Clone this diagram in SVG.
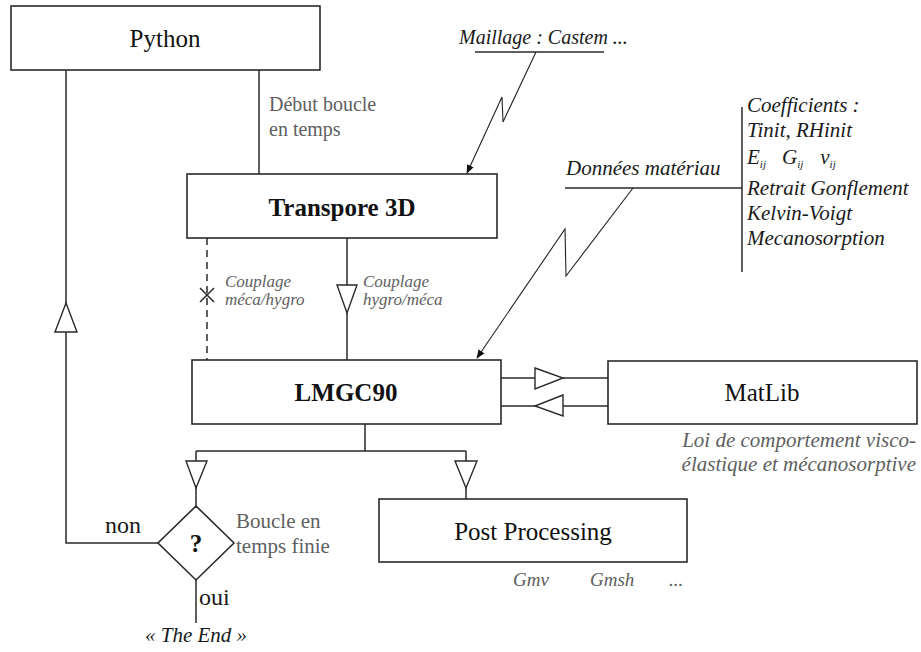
<svg xmlns="http://www.w3.org/2000/svg" width="921" height="652" viewBox="0 0 921 652" font-family="'Liberation Serif', 'Times New Roman', 'DejaVu Serif', serif">
<defs>
<style>
text{font-family:"Liberation Serif","Times New Roman","DejaVu Serif",serif}
.box{fill:#fff;stroke:#2a2a2a;stroke-width:1.6}
.lbl{font-size:25px;fill:#111;text-anchor:middle}
.b{font-weight:bold}
.ln{stroke:#2a2a2a;stroke-width:1.5;fill:none}
.tri{fill:#fff;stroke:#2a2a2a;stroke-width:1.4}
.note{fill:#606060}
.blk{fill:#1a1a1a}
.it{font-style:italic}
.bolt{stroke:#222;stroke-width:1.1;fill:none}
</style>
<marker id="ah" viewBox="0 0 10 10" refX="9" refY="5" markerWidth="9" markerHeight="9" orient="auto" markerUnits="userSpaceOnUse">
<path d="M0,1 L10,5 L0,9 z" fill="#111"/>
</marker>
</defs>
<rect width="921" height="652" fill="#fff"/>

<g id="connectors">
<path class="ln" d="M66,70 V543 H158"/>
<polygon class="tri" points="66,303 77,332 55,332"/>
<path class="ln" d="M259,70 V174"/>
<path class="ln" d="M207,238 V360" stroke-dasharray="7,5"/>
<path class="ln" d="M200,288 L214,302 M214,288 L200,302" stroke-width="1.2"/>
<path class="ln" d="M347,238 V360"/>
<polygon class="tri" points="337,285 357,285 347,313"/>
<path class="ln" d="M501,378 H608"/>
<polygon class="tri" points="535,368 563,378 535,389"/>
<path class="ln" d="M501,406 H608"/>
<polygon class="tri" points="563,395 535,406 563,416"/>
<path class="ln" d="M365,424 V451 M196,451 H466 M196,451 V506 M466,451 V499"/>
<polygon class="tri" points="186,461 207,461 196,488"/>
<polygon class="tri" points="455,461 477,461 466,488"/>
<path class="ln" d="M196,580 V623"/>
<path class="ln" d="M475,52 H604" stroke-width="1.3"/>
<path class="bolt" d="M536,52 L503,122 L502,97 L467,173" marker-end="url(#ah)"/>
<path class="ln" d="M565,188 H742 M742,107 V272" stroke-width="1.3"/>
<path class="bolt" d="M633,188 L566,276 L565,229 L477,358" marker-end="url(#ah)"/>
</g>

<g id="python">
<rect class="box" x="11" y="6" width="309" height="64"/>
<text class="lbl" x="165" y="47">Python</text>
</g>
<g id="transpore">
<rect class="box" x="187" y="174" width="310" height="64"/>
<text class="lbl b" x="342" y="216" font-size="24">Transpore 3D</text>
</g>
<g id="lmgc90">
<rect class="box" x="192" y="360" width="309" height="64"/>
<text class="lbl b" x="346" y="401" font-size="24">LMGC90</text>
</g>
<g id="matlib">
<rect class="box" x="608" y="361" width="309" height="63"/>
<text class="lbl" x="762" y="401">MatLib</text>
</g>
<g id="postprocessing">
<rect class="box" x="379" y="499" width="308" height="63"/>
<text class="lbl" x="533" y="540">Post Processing</text>
</g>
<g id="decision">
<polygon class="box" points="196,506 234,543 196,580 158,543"/>
<text class="lbl b" x="196" y="552" font-size="23">?</text>
</g>

<g id="labels">
<text class="note" font-size="20"><tspan x="269" y="111">Début boucle</tspan><tspan x="269" y="136">en temps</tspan></text>
<text class="blk it" font-size="20" x="459" y="44">Maillage : Castem ...</text>
<text class="blk it" font-size="21" x="566" y="175">Données matériau</text>
<text class="blk it" font-size="21">
<tspan x="747" y="112">Coefficients :</tspan>
<tspan x="747" y="137">Tinit, RHinit</tspan>
<tspan x="747" y="164">E<tspan font-size="11" dy="4">ij</tspan><tspan dy="-4" dx="16">G</tspan><tspan font-size="11" dy="4">ij</tspan><tspan dy="-4" dx="17">ν</tspan><tspan font-size="11" dy="4">ij</tspan></tspan>
<tspan x="747" y="195">Retrait Gonflement</tspan>
<tspan x="747" y="220">Kelvin-Voigt</tspan>
<tspan x="747" y="245">Mecanosorption</tspan>
</text>
<text class="note it" font-size="17"><tspan x="225" y="287">Couplage</tspan><tspan x="225" y="305">méca/hygro</tspan></text>
<text class="note it" font-size="17"><tspan x="363" y="287">Couplage</tspan><tspan x="363" y="305">hygro/méca</tspan></text>
<text class="note it" font-size="21" text-anchor="end"><tspan x="916" y="447">Loi de comportement visco-</tspan><tspan x="916" y="471">élastique et mécanosorptive</tspan></text>
<text class="blk" font-size="24" x="105" y="533">non</text>
<text class="blk" font-size="24" x="199" y="605">oui</text>
<text class="note" font-size="21"><tspan x="236" y="528">Boucle en</tspan><tspan x="236" y="553">temps finie</tspan></text>
<text class="blk it" font-size="21" x="196" y="642" text-anchor="middle">« The End »</text>
<text class="note it" font-size="19" x="513" y="586">Gmv</text>
<text class="note it" font-size="19" x="590" y="586">Gmsh</text>
<text class="note it" font-size="19" x="669" y="586">...</text>
</g>
</svg>
